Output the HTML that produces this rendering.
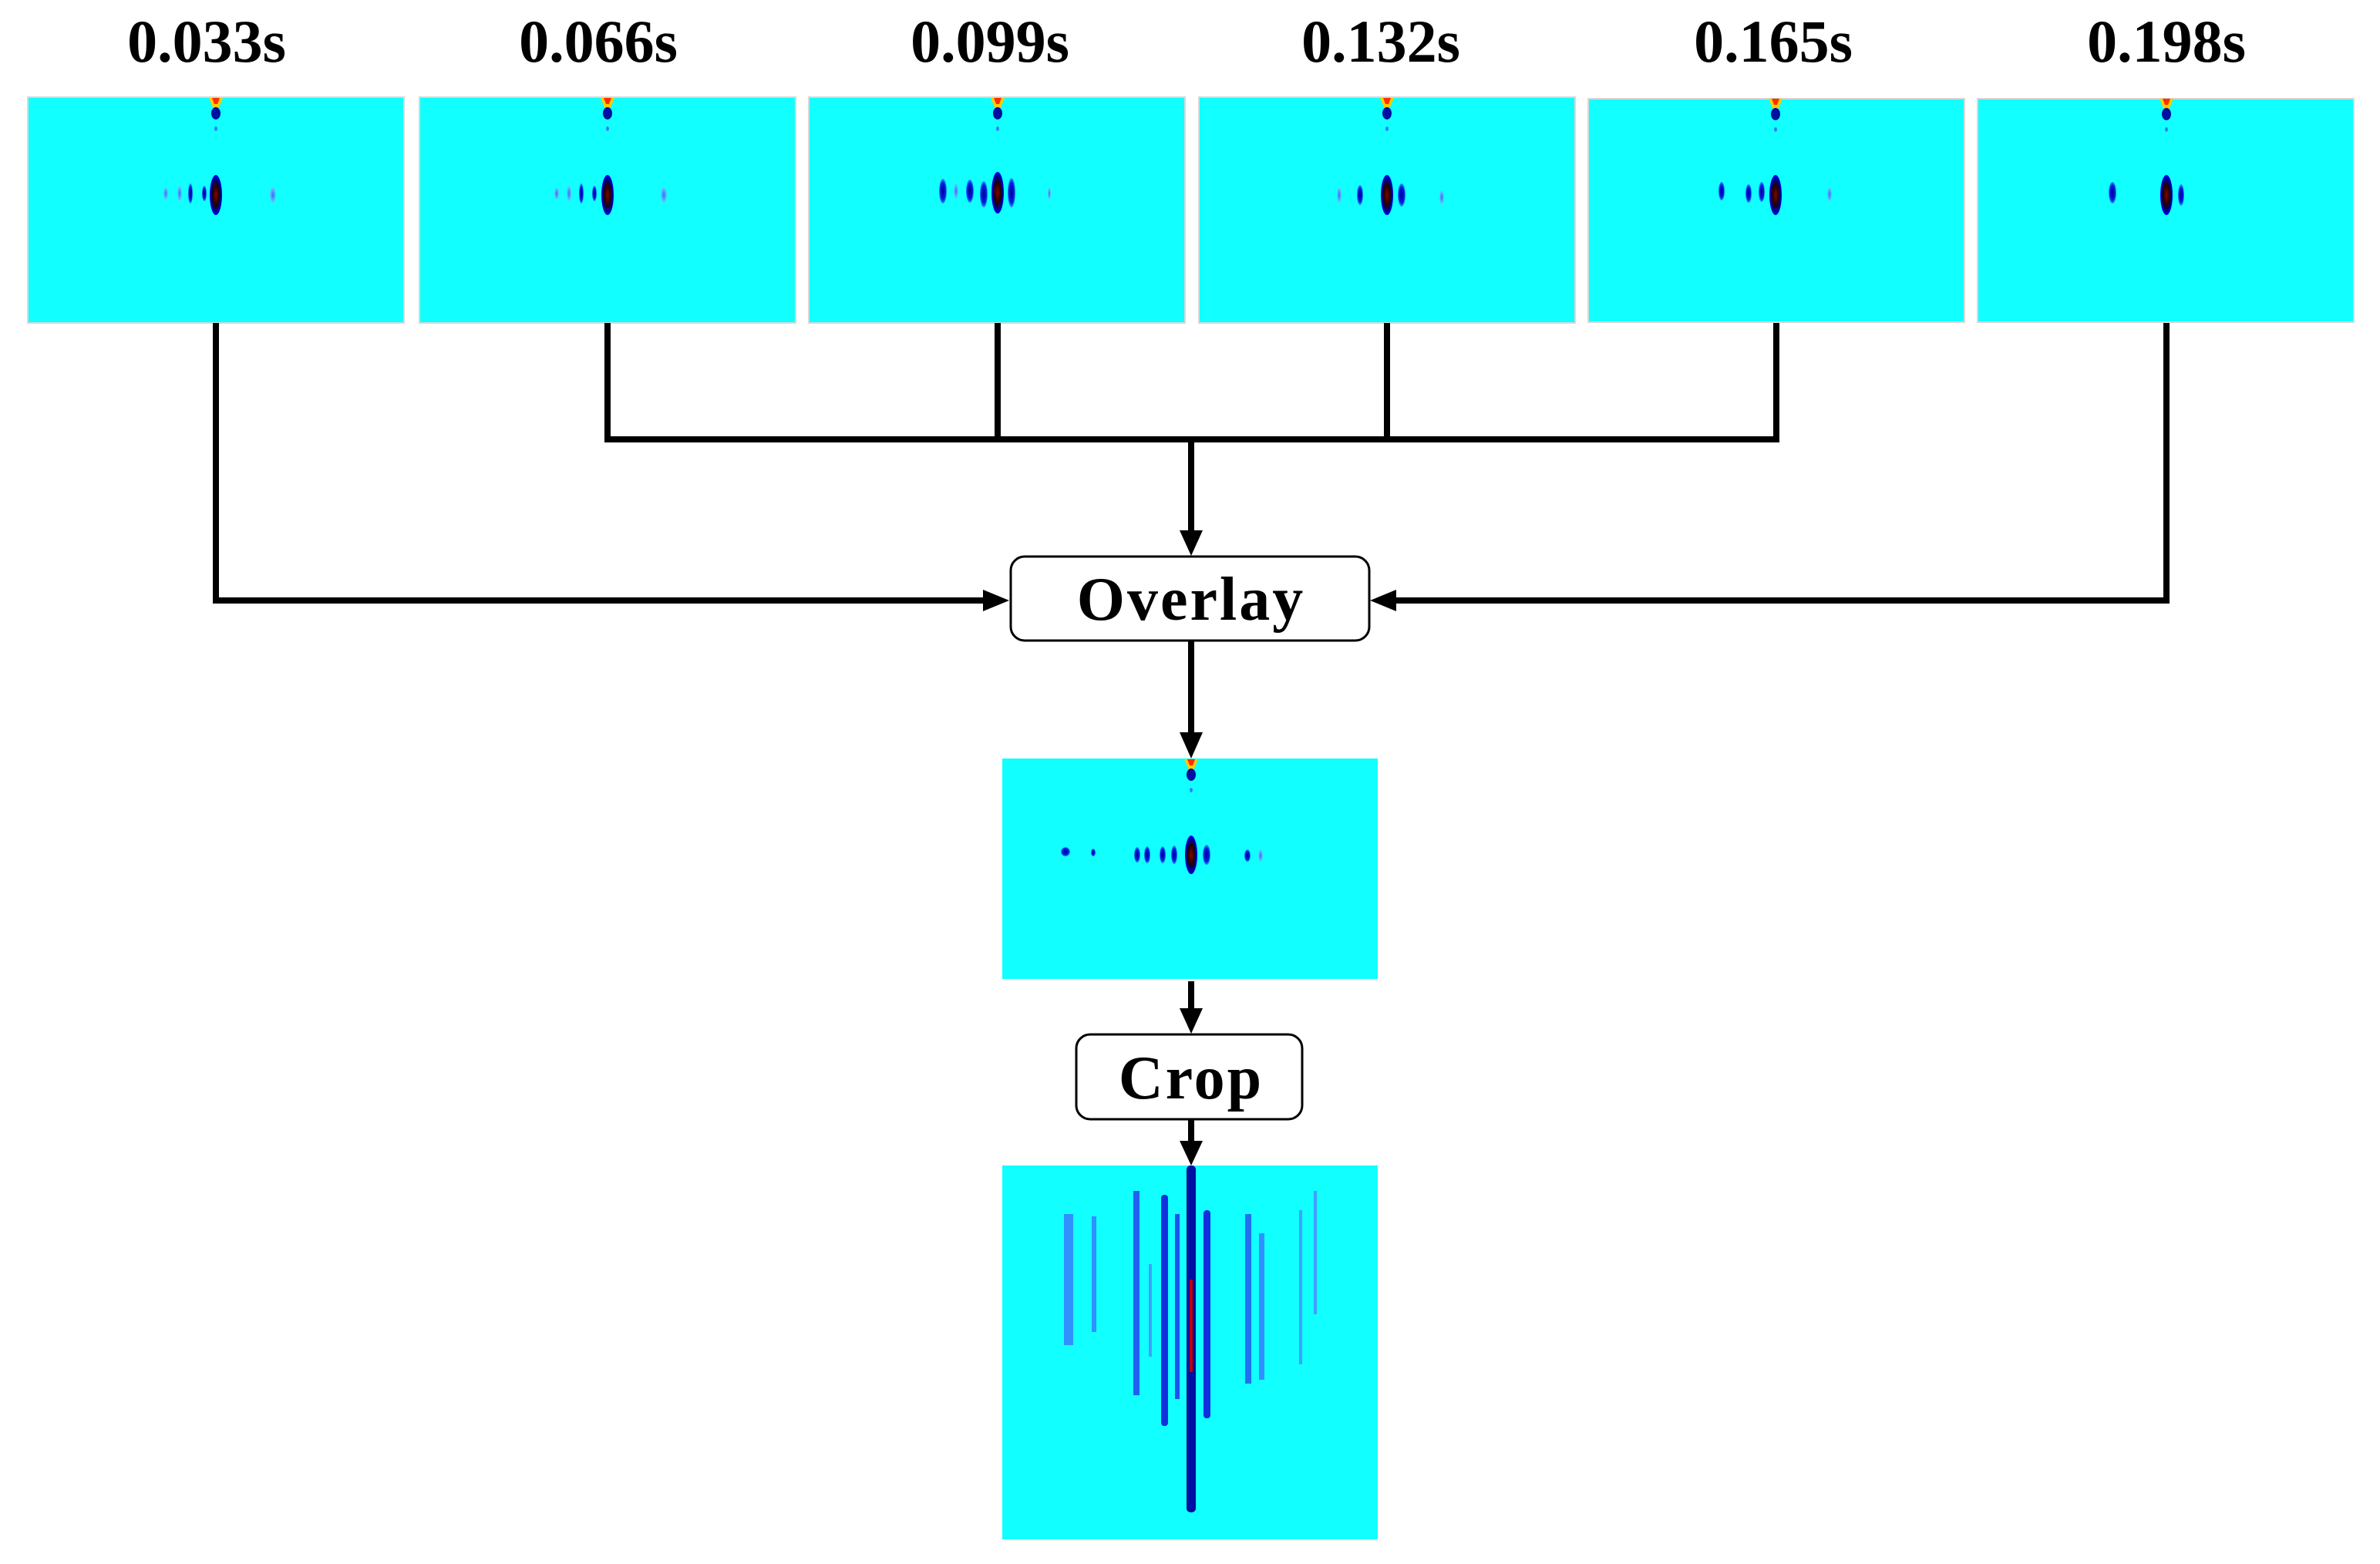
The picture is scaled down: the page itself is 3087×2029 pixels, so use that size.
<!DOCTYPE html>
<html><head><style>html,body{margin:0;padding:0;background:#fff;width:3087px;height:2029px;overflow:hidden}</style></head>
<body>
<svg width="3087" height="2029" viewBox="0 0 3087 2029" xmlns="http://www.w3.org/2000/svg" font-family="'Liberation Serif', serif">
<defs>
<radialGradient id="main" cx="0.5" cy="0.5" r="0.5"><stop offset="0" stop-color="#8b0000"/><stop offset="0.5" stop-color="#200000"/><stop offset="0.8" stop-color="#00008b"/><stop offset="1" stop-color="#0000ff"/></radialGradient>
<radialGradient id="blue" cx="0.5" cy="0.5" r="0.5"><stop offset="0" stop-color="#000090"/><stop offset="0.7" stop-color="#0020e0"/><stop offset="1" stop-color="#20a0ff"/></radialGradient>
<radialGradient id="lb" cx="0.5" cy="0.5" r="0.5"><stop offset="0" stop-color="#3070ff"/><stop offset="1" stop-color="#60d0ff"/></radialGradient>
<g id="top">
<path d="M-9,0 L9,0 L3,14 L-3,14 Z" fill="#ffcc00"/>
<path d="M-5,0 L5,0 L2,8 L-2,8 Z" fill="#ff3000"/>
<ellipse cx="0" cy="20" rx="6" ry="8" fill="#0010a0"/>
<ellipse cx="0" cy="40" rx="2" ry="3" fill="#3080ff"/>
</g>
</defs>
<g font-weight="bold" font-size="78" text-anchor="middle" fill="#000">
<text x="268" y="80">0.033s</text>
<text x="776" y="80">0.066s</text>
<text x="1284" y="80">0.099s</text>
<text x="1791" y="80">0.132s</text>
<text x="2300" y="80">0.165s</text>
<text x="2810" y="80">0.198s</text>
</g>
<g fill="#12ffff" stroke="#d8d8d8" stroke-width="2">
<rect x="36" y="126" width="488" height="293"/>
<rect x="544" y="126" width="488" height="293"/>
<rect x="1049" y="126" width="488" height="293"/>
<rect x="1555" y="126" width="488" height="293"/>
<rect x="2060" y="128" width="488" height="290"/>
<rect x="2565" y="128" width="488" height="290"/>
</g>
<g>
<use href="#top" x="280" y="127"/>
<ellipse cx="280" cy="253" rx="8" ry="26" fill="url(#main)"/>
<ellipse cx="265" cy="251" rx="3" ry="10" fill="url(#blue)"/>
<ellipse cx="247" cy="251" rx="3" ry="13" fill="url(#blue)"/>
<ellipse cx="233" cy="251" rx="3" ry="10" fill="url(#lb)"/>
<ellipse cx="215" cy="251" rx="3" ry="8" fill="url(#lb)"/>
<ellipse cx="354" cy="253" rx="4" ry="10" fill="url(#lb)"/>

<use href="#top" x="788" y="127"/>
<ellipse cx="788" cy="253" rx="8" ry="26" fill="url(#main)"/>
<ellipse cx="771" cy="251" rx="3" ry="10" fill="url(#blue)"/>
<ellipse cx="754" cy="251" rx="3" ry="13" fill="url(#blue)"/>
<ellipse cx="738" cy="251" rx="3" ry="10" fill="url(#lb)"/>
<ellipse cx="722" cy="251" rx="3" ry="8" fill="url(#lb)"/>
<ellipse cx="861" cy="253" rx="4" ry="10" fill="url(#lb)"/>

<use href="#top" x="1294" y="127"/>
<ellipse cx="1294" cy="250" rx="8" ry="27" fill="url(#main)"/>
<ellipse cx="1312" cy="250" rx="5" ry="19" fill="url(#blue)"/>
<ellipse cx="1276" cy="252" rx="5" ry="17" fill="url(#blue)"/>
<ellipse cx="1258" cy="248" rx="5" ry="15" fill="url(#blue)"/>
<ellipse cx="1223" cy="248" rx="5" ry="16" fill="url(#blue)"/>
<ellipse cx="1240" cy="248" rx="3" ry="10" fill="url(#lb)"/>
<ellipse cx="1361" cy="251" rx="2" ry="8" fill="url(#lb)"/>

<use href="#top" x="1799" y="127"/>
<ellipse cx="1799" cy="253" rx="8" ry="26" fill="url(#main)"/>
<ellipse cx="1818" cy="253" rx="5" ry="15" fill="url(#blue)"/>
<ellipse cx="1764" cy="253" rx="4" ry="13" fill="url(#blue)"/>
<ellipse cx="1737" cy="253" rx="3" ry="10" fill="url(#lb)"/>
<ellipse cx="1870" cy="256" rx="3" ry="9" fill="url(#lb)"/>

<use href="#top" x="2303" y="128"/>
<ellipse cx="2303" cy="253" rx="8" ry="26" fill="url(#main)"/>
<ellipse cx="2285" cy="249" rx="4" ry="13" fill="url(#blue)"/>
<ellipse cx="2268" cy="251" rx="4" ry="12" fill="url(#blue)"/>
<ellipse cx="2233" cy="248" rx="4" ry="12" fill="url(#blue)"/>
<ellipse cx="2373" cy="252" rx="3" ry="9" fill="url(#lb)"/>

<use href="#top" x="2810" y="128"/>
<ellipse cx="2810" cy="253" rx="8" ry="26" fill="url(#main)"/>
<ellipse cx="2829" cy="253" rx="4" ry="14" fill="url(#blue)"/>
<ellipse cx="2740" cy="250" rx="5" ry="14" fill="url(#blue)"/>
</g>
<g stroke="#000" stroke-width="8" fill="none">
<polyline points="280,419 280,779 1280,779"/>
<polyline points="2810,419 2810,779 1806,779"/>
<polyline points="788,419 788,570 2304,570 2304,419"/>
<line x1="1294" y1="419" x2="1294" y2="570"/>
<line x1="1799" y1="419" x2="1799" y2="570"/>
<line x1="1545" y1="570" x2="1545" y2="692"/>
<line x1="1545" y1="831" x2="1545" y2="955"/>
<line x1="1545" y1="1273" x2="1545" y2="1312"/>
<line x1="1545" y1="1452" x2="1545" y2="1485"/>
</g>
<g fill="#000">
<polygon points="1309,779 1275,765 1275,793"/>
<polygon points="1777,779 1811,765 1811,793"/>
<polygon points="1545,721 1530,688 1560,688"/>
<polygon points="1545,984 1530,950 1560,950"/>
<polygon points="1545,1341 1530,1308 1560,1308"/>
<polygon points="1545,1512 1530,1480 1560,1480"/>
</g>
<rect x="1311" y="722" width="465" height="109" rx="18" fill="#fff" stroke="#000" stroke-width="3"/>
<text x="1545" y="804" font-size="80" font-weight="bold" text-anchor="middle" letter-spacing="3">Overlay</text>
<rect x="1396" y="1342" width="293" height="110" rx="18" fill="#fff" stroke="#000" stroke-width="3"/>
<text x="1545" y="1425" font-size="80" font-weight="bold" text-anchor="middle" letter-spacing="3">Crop</text>
<rect x="1300" y="984" width="487" height="286" fill="#12ffff"/>
<use href="#top" x="1545" y="985"/>
<ellipse cx="1545" cy="1109" rx="8" ry="25" fill="url(#main)"/>
<ellipse cx="1565" cy="1109" rx="5" ry="13" fill="url(#blue)"/>
<ellipse cx="1523" cy="1109" rx="4" ry="12" fill="url(#blue)"/>
<ellipse cx="1508" cy="1109" rx="4" ry="11" fill="url(#blue)"/>
<ellipse cx="1488" cy="1109" rx="4" ry="11" fill="url(#blue)"/>
<ellipse cx="1475" cy="1109" rx="4" ry="10" fill="url(#blue)"/>
<ellipse cx="1382" cy="1105" rx="6" ry="6" fill="url(#blue)"/>
<ellipse cx="1418" cy="1106" rx="3" ry="5" fill="url(#blue)"/>
<ellipse cx="1618" cy="1110" rx="4" ry="8" fill="url(#blue)"/>
<ellipse cx="1635" cy="1110" rx="3" ry="8" fill="url(#lb)"/>
<rect x="1300" y="1512" width="487" height="485" fill="#12ffff"/>
<g>
<rect x="1539" y="1512" width="12" height="450" rx="5" fill="#0010a0"/>
<rect x="1543" y="1660" width="4" height="120" fill="#c00000"/>
<rect x="1506" y="1550" width="9" height="300" rx="4" fill="#1030e0"/>
<rect x="1561" y="1570" width="9" height="270" rx="4" fill="#1030e0"/>
<rect x="1524" y="1575" width="6" height="240" fill="#2050f0"/>
<rect x="1470" y="1545" width="8" height="265" fill="#2060f0"/>
<rect x="1490" y="1640" width="4" height="120" fill="#40a0ff"/>
<rect x="1380" y="1575" width="12" height="170" fill="#3090ff"/>
<rect x="1416" y="1578" width="6" height="150" fill="#3090ff"/>
<rect x="1615" y="1575" width="8" height="220" fill="#2070f0"/>
<rect x="1633" y="1600" width="7" height="190" fill="#3090ff"/>
<rect x="1685" y="1570" width="4" height="200" fill="#40a0ff"/>
<rect x="1704" y="1545" width="4" height="160" fill="#40a0ff"/>
</g>
</svg>
</body></html>
